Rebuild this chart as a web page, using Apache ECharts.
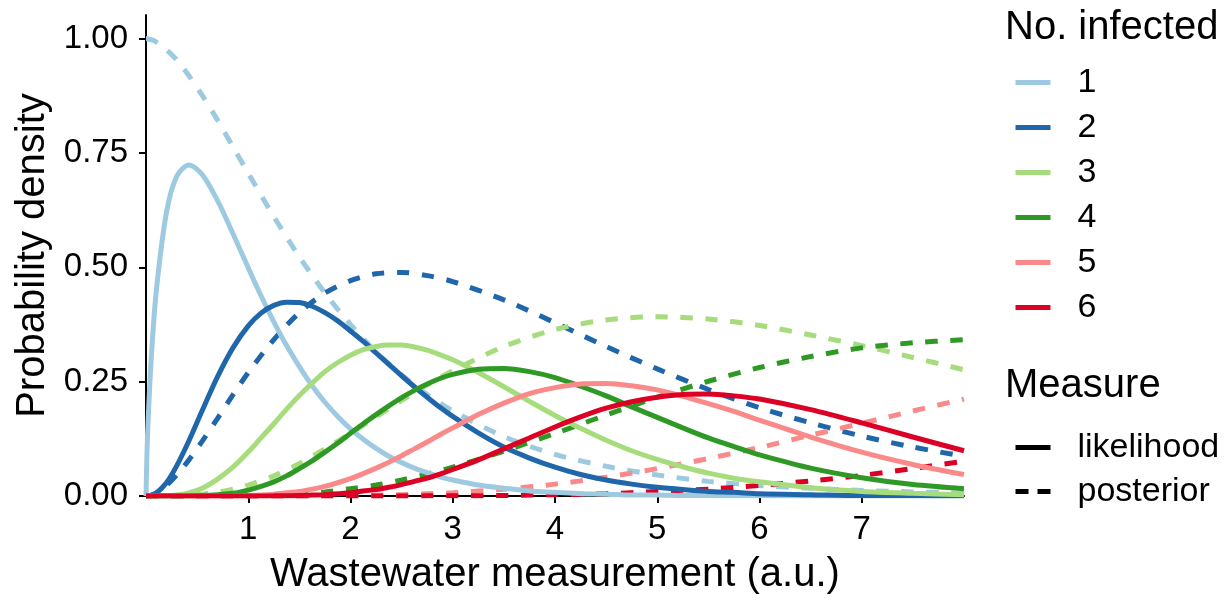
<!DOCTYPE html>
<html>
<head>
<meta charset="utf-8">
<script src="https://cdn.jsdelivr.net/npm/echarts@6/dist/echarts.min.js"></script>
<style>
  html, body { margin: 0; padding: 0; background: #fff; }
  #chart { width: 1226px; height: 600px; }
</style>
</head>
<body>
<div id="chart"></div>
<script>
// 数据：读图得到的曲线取值
// likelihood 曲线用的横坐标（峰值附近更密）
var xsLik = [0, 0.01, 0.02, 0.05, 0.1, 0.2, 0.3, 0.42, 0.55, 0.7, 0.85, 1,
    1.125, 1.25, 1.375, 1.5, 1.625, 1.75, 1.875, 2, 2.125, 2.25, 2.375, 2.5, 2.625, 2.75, 2.875, 3,
    3.25, 3.5, 3.75, 4, 4.25, 4.5, 4.75, 5, 5.25, 5.5, 5.75, 6, 6.5, 7, 7.5, 8];

var lik1 = [0, 0.099, 0.161, 0.296, 0.447, 0.620, 0.699, 0.724, 0.703, 0.646, 0.574, 0.499,
    0.438, 0.381, 0.329, 0.283, 0.241, 0.205, 0.174, 0.147, 0.124, 0.104, 0.087, 0.073, 0.061, 0.051, 0.042, 0.035,
    0.024, 0.017, 0.011, 0.008, 0.005, 0.004, 0.002, 0.002, 0.001, 0.001, 0.0005, 0.0003, 0.0001, 0.0001, 0, 0];
var lik2 = [0, 0, 0.0001, 0.001, 0.006, 0.029, 0.066, 0.121, 0.187, 0.261, 0.324, 0.372,
    0.400, 0.417, 0.424, 0.423, 0.415, 0.401, 0.383, 0.361, 0.338, 0.313, 0.288, 0.263, 0.239, 0.216, 0.194, 0.174,
    0.138, 0.107, 0.083, 0.063, 0.047, 0.035, 0.026, 0.019, 0.014, 0.010, 0.008, 0.005, 0.003, 0.001, 0.001, 0.0004];
var lik3 = [0, 0, 0, 0, 0, 0.0005, 0.002, 0.007, 0.017, 0.037, 0.063, 0.096,
    0.127, 0.158, 0.190, 0.220, 0.247, 0.272, 0.292, 0.308, 0.320, 0.327, 0.330, 0.330, 0.326, 0.319, 0.309, 0.298,
    0.270, 0.239, 0.207, 0.176, 0.148, 0.122, 0.099, 0.080, 0.064, 0.050, 0.039, 0.031, 0.018, 0.010, 0.006, 0.003];
var lik4 = [0, 0, 0, 0, 0, 0, 0, 0.0002, 0.001, 0.003, 0.006, 0.013,
    0.021, 0.031, 0.044, 0.060, 0.077, 0.096, 0.116, 0.137, 0.158, 0.178, 0.197, 0.215, 0.231, 0.245, 0.257, 0.266,
    0.277, 0.279, 0.272, 0.259, 0.240, 0.219, 0.195, 0.172, 0.149, 0.127, 0.108, 0.090, 0.061, 0.040, 0.025, 0.016];
var lik5 = [0, 0, 0, 0, 0, 0, 0, 0, 0, 0.0001, 0.0004, 0.001,
    0.002, 0.004, 0.007, 0.010, 0.015, 0.021, 0.029, 0.038, 0.049, 0.061, 0.074, 0.088, 0.103, 0.118, 0.134, 0.149,
    0.178, 0.203, 0.224, 0.237, 0.245, 0.246, 0.241, 0.232, 0.218, 0.202, 0.185, 0.166, 0.129, 0.096, 0.069, 0.047];
var lik6 = [0, 0, 0, 0, 0, 0, 0, 0, 0, 0, 0, 0.0001,
    0.0002, 0.0003, 0.0007, 0.001, 0.002, 0.003, 0.005, 0.007, 0.011, 0.014, 0.019, 0.025, 0.032, 0.039, 0.048, 0.058,
    0.079, 0.103, 0.127, 0.151, 0.173, 0.192, 0.206, 0.216, 0.222, 0.223, 0.219, 0.212, 0.189, 0.160, 0.129, 0.099];

// posterior 曲线用的横坐标
var xsPost = [0, 0.01, 0.02, 0.05, 0.1, 0.2, 0.3, 0.42, 0.55, 0.7, 0.85, 1, 1.25, 1.5, 1.75, 2, 2.25, 2.5, 2.75, 3, 3.5, 4, 4.5, 5, 5.5, 6, 6.5, 7, 7.5, 8];

var post1 = [1, 1, 0.9995, 0.998, 0.993, 0.976, 0.954, 0.919, 0.876, 0.822, 0.764, 0.706, 0.611, 0.523, 0.444, 0.375, 0.315, 0.265, 0.222, 0.186, 0.130, 0.091, 0.065, 0.046, 0.032, 0.023, 0.017, 0.012, 0.009, 0.006];
var post2 = [0, 0.0001, 0.0005, 0.002, 0.007, 0.023, 0.046, 0.079, 0.120, 0.170, 0.221, 0.270, 0.342, 0.401, 0.444, 0.471, 0.486, 0.489, 0.482, 0.469, 0.429, 0.379, 0.327, 0.278, 0.233, 0.193, 0.160, 0.131, 0.107, 0.087];
var post3 = [0, 0, 0, 0, 0, 0.0001, 0.0005, 0.002, 0.004, 0.008, 0.015, 0.024, 0.044, 0.071, 0.103, 0.137, 0.173, 0.209, 0.243, 0.274, 0.327, 0.364, 0.385, 0.392, 0.387, 0.373, 0.352, 0.329, 0.303, 0.276];
var post4 = [0, 0, 0, 0, 0, 0, 0, 0, 0, 0.0002, 0.0004, 0.001, 0.002, 0.005, 0.009, 0.016, 0.024, 0.035, 0.048, 0.063, 0.098, 0.137, 0.177, 0.216, 0.251, 0.281, 0.305, 0.324, 0.335, 0.342];
var post5 = [0, 0, 0, 0, 0, 0, 0, 0, 0, 0, 0, 0, 0.0001, 0.0002, 0.0004, 0.001, 0.002, 0.003, 0.005, 0.007, 0.015, 0.026, 0.041, 0.060, 0.082, 0.106, 0.133, 0.159, 0.186, 0.212];
var post6 = [0, 0, 0, 0, 0, 0, 0, 0, 0, 0, 0, 0, 0, 0, 0, 0, 0.0001, 0.0001, 0.0003, 0.0005, 0.001, 0.003, 0.005, 0.010, 0.015, 0.023, 0.033, 0.045, 0.060, 0.076];

var groups = ['1', '2', '3', '4', '5', '6'];
var measures = ['likelihood', 'posterior'];
var xTicks = [1, 2, 3, 4, 5, 6, 7];
var yTicks = [0, 0.25, 0.5, 0.75, 1];

var colors = ['#9ecae1', '#1f66aa', '#a6dc7c', '#2e9a25', '#fa8a8a', '#dc0024'];
var font = '"Liberation Sans", Arial, sans-serif';

var myChart = echarts.init(document.getElementById('chart'));

function pairs(xs, ys) {
    return xs.map(function(x, i) { return [x, ys[i]]; });
}

var series = [];
[lik1, lik2, lik3, lik4, lik5, lik6].forEach(function(ys, i) {
    series.push({
        name: groups[i],
        type: 'line',
        data: pairs(xsLik, ys),
        symbol: 'none',
        smooth: 0.3,
        lineStyle: { color: colors[i], width: 5 },
        itemStyle: { color: colors[i] },
        z: 3
    });
});
[post1, post2, post3, post4, post5, post6].forEach(function(ys, i) {
    series.push({
        name: groups[i],
        type: 'line',
        data: pairs(xsPost, ys),
        symbol: 'none',
        smooth: 0.3,
        lineStyle: { color: colors[i], width: 5, type: [12.5, 12.5], cap: 'butt' },
        itemStyle: { color: colors[i] },
        z: 2
    });
});
// 图例用的空系列
series.push({
    name: measures[0], type: 'line', data: [], symbol: 'none',
    lineStyle: { color: '#000', width: 5 }, itemStyle: { color: '#000' }
});
series.push({
    name: measures[1], type: 'line', data: [], symbol: 'none',
    lineStyle: { color: '#000', width: 5, type: [13, 9], cap: 'butt' }, itemStyle: { color: '#000' }
});

var legendText = { fontFamily: font, fontSize: 34, color: '#000', lineHeight: 39, padding: [0, 0, 0, 22] };

var option = {
    animation: false,
    backgroundColor: '#fff',
    grid: { left: 146, right: 262, top: 15, bottom: 100, containLabel: false },
    xAxis: {
        type: 'value',
        min: 0,
        max: 8,
        interval: 1,
        name: 'Wastewater measurement (a.u.)',
        nameLocation: 'middle',
        nameGap: 59,
        nameTextStyle: { fontFamily: font, fontSize: 40, color: '#000' },
        axisLine: { show: true, onZero: false, lineStyle: { color: '#000', width: 2 } },
        axisTick: { show: true, length: 7, customValues: xTicks, lineStyle: { color: '#000', width: 2 } },
        axisLabel: { customValues: xTicks, margin: 17, fontFamily: font, fontSize: 33, color: '#000' },
        splitLine: { show: false }
    },
    yAxis: {
        type: 'value',
        min: 0,
        max: 1.052,
        name: 'Probability density',
        nameLocation: 'middle',
        nameGap: 93,
        nameTextStyle: { fontFamily: font, fontSize: 40, color: '#000' },
        axisLine: { show: true, lineStyle: { color: '#000', width: 2 } },
        axisTick: { show: true, length: 7, customValues: yTicks, lineStyle: { color: '#000', width: 2 } },
        axisLabel: {
            customValues: yTicks, margin: 18, fontFamily: font, fontSize: 33, color: '#000',
            formatter: function(v) { return v.toFixed(2); }
        },
        splitLine: { show: false }
    },
    legend: [{
        data: groups,
        orient: 'vertical',
        left: 1008,
        top: 58,
        itemWidth: 35,
        itemHeight: 6,
        itemGap: 6,
        selectedMode: false,
        itemStyle: { opacity: 0 },
        lineStyle: { width: 5 },
        textStyle: legendText
    }, {
        data: [
            { name: measures[0] },
            { name: measures[1], lineStyle: { type: [13, 9], cap: 'butt', width: 5 } }
        ],
        orient: 'vertical',
        left: 1008,
        top: 423,
        itemWidth: 35,
        itemHeight: 6,
        itemGap: 5,
        selectedMode: false,
        itemStyle: { opacity: 0 },
        lineStyle: { width: 5 },
        textStyle: legendText
    }],
    graphic: [{
        type: 'text', left: 1005, top: 8,
        style: { text: 'No. infected', font: '40px ' + font, fill: '#000' }
    }, {
        type: 'text', left: 1005, top: 366,
        style: { text: 'Measure', font: '40px ' + font, fill: '#000' }
    }],
    series: series
};

myChart.setOption(option);
</script>
</body>
</html>
